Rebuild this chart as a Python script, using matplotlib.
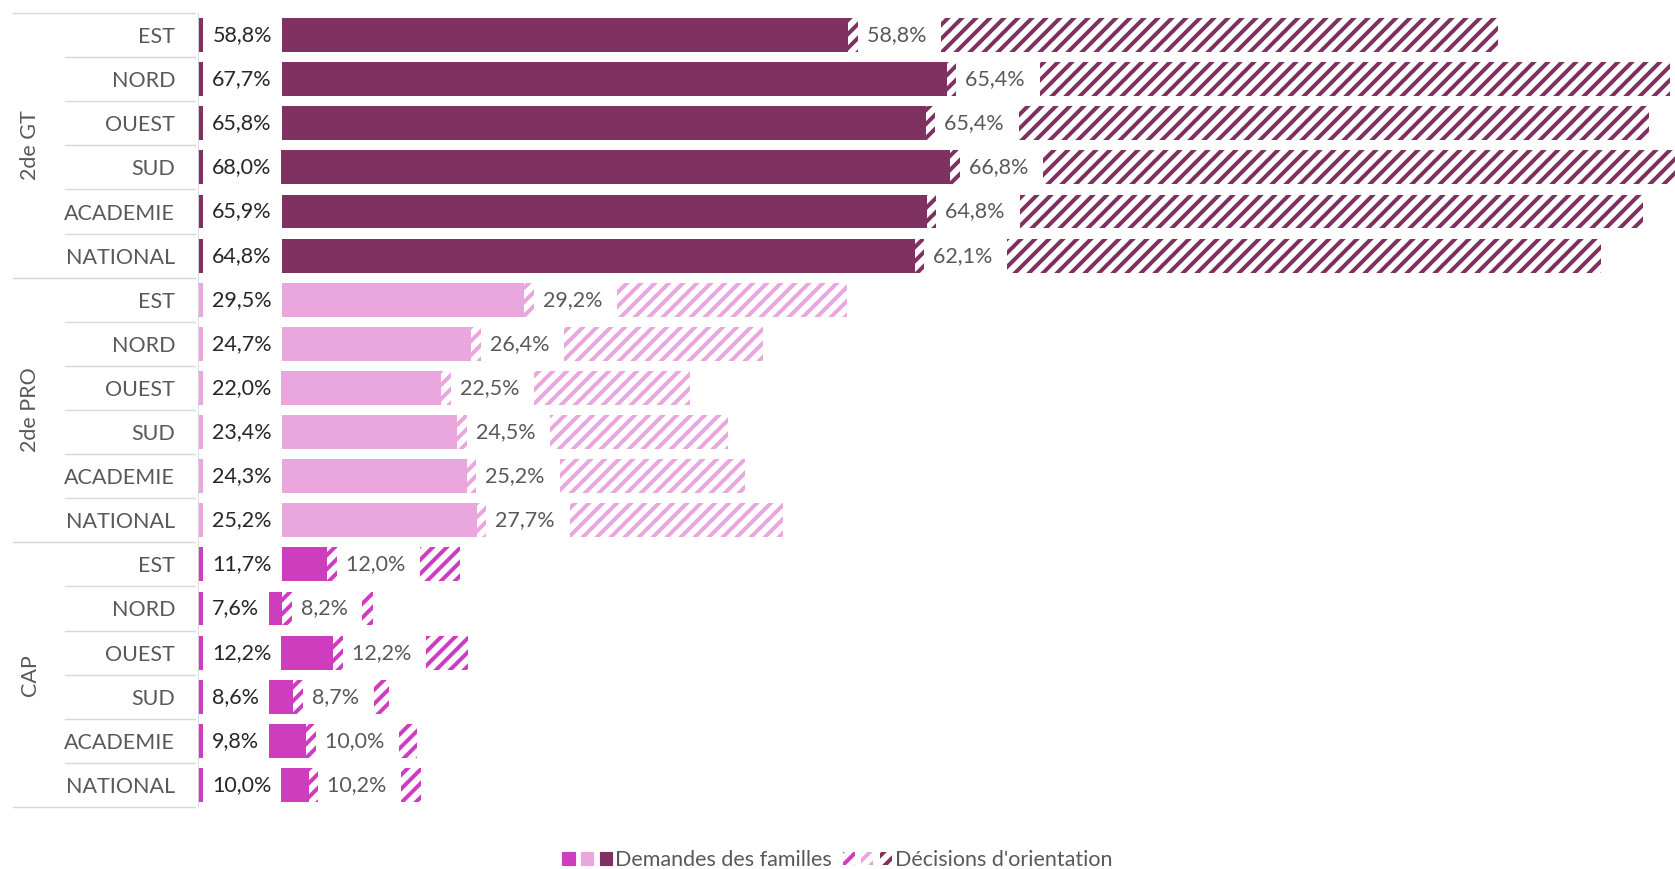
import numpy as np
import matplotlib.pyplot as plt
from matplotlib.patches import Patch
from matplotlib.legend_handler import HandlerTuple
from matplotlib.transforms import blended_transform_factory

DPI = 84
PT = 72 / DPI  # points per pixel

plt.rcParams['font.family'] = ['Lato', 'DejaVu Sans']
plt.rcParams['hatch.linewidth'] = 4 * PT

groups = ['2de GT', '2de PRO', 'CAP']
zones = ['EST', 'NORD', 'OUEST', 'SUD', 'ACADEMIE', 'NATIONAL']
demandes_gt = [58.8, 67.7, 65.8, 68.0, 65.9, 64.8]
decisions_gt = [58.8, 65.4, 65.4, 66.8, 64.8, 62.1]
demandes_pro = [29.5, 24.7, 22.0, 23.4, 24.3, 25.2]
decisions_pro = [29.2, 26.4, 22.5, 24.5, 25.2, 27.7]
demandes_cap = [11.7, 7.6, 12.2, 8.6, 9.8, 10.0]
decisions_cap = [12.0, 8.2, 12.2, 8.7, 10.0, 10.2]
colors = ['#7f3261', '#eaa7de', '#cf3dbf']

demandes = [demandes_gt, demandes_pro, demandes_cap]
decisions = [decisions_gt, decisions_pro, decisions_cap]

W, H = 1675, 869
fig = plt.figure(figsize=(W / DPI, H / DPI), dpi=DPI)
ax = fig.add_axes([198 / W, 62 / H, 1 - 198 / W, (807 - 13) / H])

grey = '#595959'
fs = 21.5 * PT
fmt = lambda v: f'{v:.1f}%'.replace('.', ',')
n = len(zones)
for g in range(len(groups)):
    y = np.arange(n) + g * n
    dem = np.array(demandes[g])
    dec = np.array(decisions[g])
    ax.barh(y, dem, height=0.77, color=colors[g], lw=0)
    ax.barh(y, dec, left=dem, height=0.77, facecolor='white',
            edgecolor=colors[g], hatch='//', lw=0)
    for yi, d1, d2 in zip(y, dem, dec):
        ax.text(1.3, yi, fmt(d1), ha='left', va='center', fontsize=fs,
                color='#262626',
                bbox=dict(boxstyle='square,pad=0.45', fc='white', ec='none'))
        ax.text(d1 + 1.7, yi, fmt(d2) + ' ', ha='left', va='center', fontsize=fs,
                color=grey,
                bbox=dict(boxstyle='square,pad=0.42', fc='white', ec='none'))

ax.set_xlim(0, (W - 199) / 11.05)
ax.set_ylim(3 * n - 0.5, -0.5)
ax.set_xticks([])
ax.set_yticks(np.arange(3 * n), zones * 3)
ax.tick_params(axis='y', length=0, pad=23 * PT, labelsize=fs, labelcolor=grey)
for s in ['top', 'right', 'bottom']:
    ax.spines[s].set_visible(False)
ax.spines['left'].set_color('#d9d9d9')

# separators in the category area
tr = blended_transform_factory(fig.transFigure, ax.transData)
for b in np.arange(3 * n + 1) - 0.5:
    x0 = 13 / W if (b + 0.5) % n == 0 else 65 / W
    ax.plot([x0, 195 / W], [b, b], color='#d9d9d9', lw=1.5 * PT,
            transform=tr, clip_on=False)
for g, name in enumerate(groups):
    ax.text(30 / W, g * n + (n - 1) / 2, name, transform=tr, rotation=90,
            ha='center', va='center', fontsize=fs, color=grey)

h_dem = tuple(Patch(color=c) for c in colors[::-1])
h_dec = tuple(Patch(facecolor='white', edgecolor=c, hatch='//', lw=0) for c in colors[::-1])
fig.legend([h_dem, h_dec], ['Demandes des familles', "Décisions d'orientation"],
           loc='center', bbox_to_anchor=(0.5, 1 - 860 / H), ncol=2, frameon=False,
           fontsize=fs, labelcolor=grey,
           handler_map={tuple: HandlerTuple(ndivide=None, pad=0.3)},
           handlelength=2.3, handleheight=0.55, handletextpad=0.15, columnspacing=0.5)

fig.savefig('out.png', dpi=DPI, facecolor='white')
